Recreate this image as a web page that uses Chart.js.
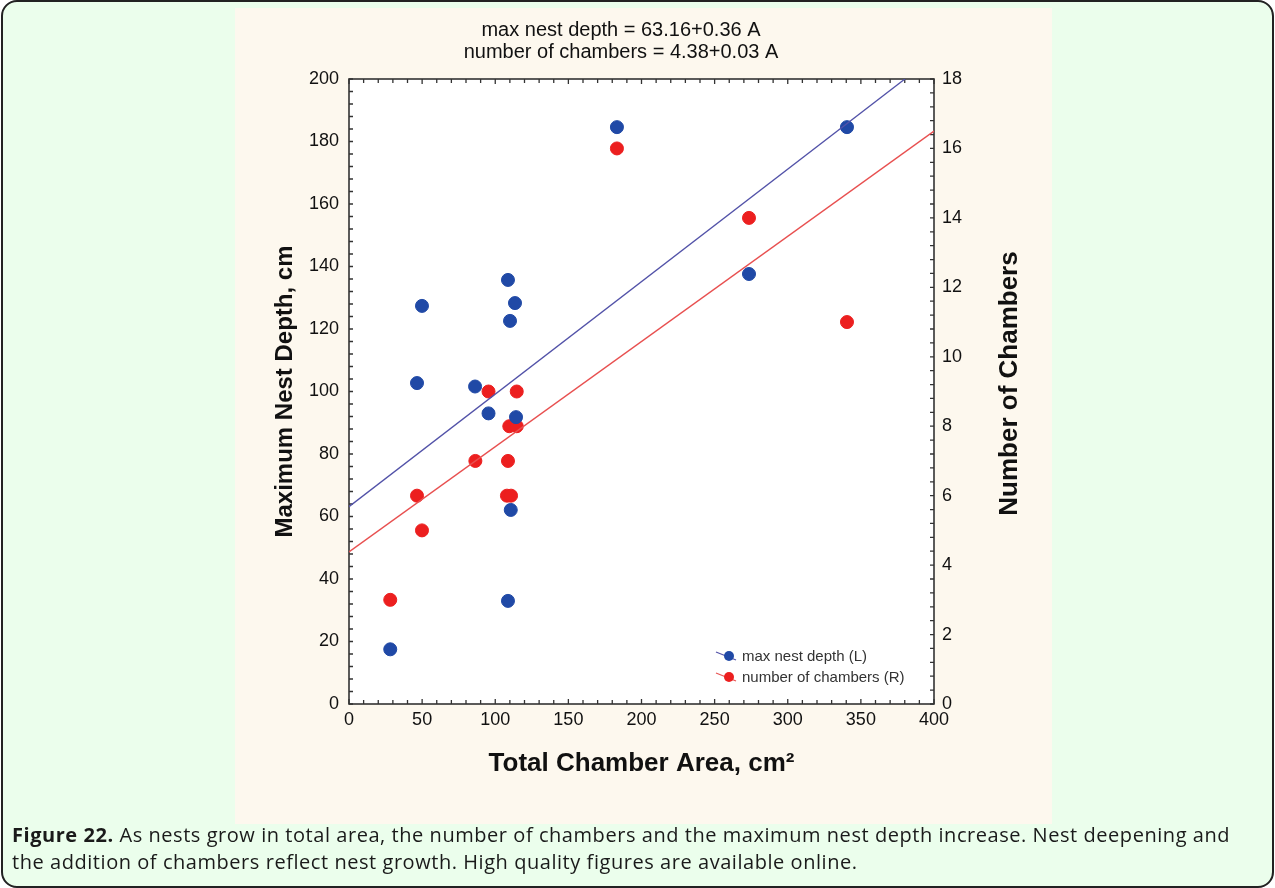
<!DOCTYPE html>
<html>
<head>
<meta charset="utf-8">
<script src="https://cdn.jsdelivr.net/npm/chart.js@4.4.1/dist/chart.umd.min.js"></script>
<style>
  html, body { margin: 0; padding: 0; background: #ffffff; }
  #frame {
    position: absolute; left: 1px; top: 0px; width: 1269px; height: 884px;
    border: 2px solid #222; border-radius: 16px; background: #ebfeec;
  }
  #panel {
    position: absolute; left: 232px; top: 6px; width: 817px; height: 816px;
    background: #fdf8ee;
  }
  #caption {
    position: absolute; left: 9px; top: 819px; width: 1260px; white-space: nowrap;
    font-family: "Open Sans", Lato, sans-serif; font-size: 20px; letter-spacing: 0.55px;
    line-height: 27px; color: #1a1a1a;
  }
</style>
</head>
<body>
<div id="frame">
  <div id="panel"><canvas id="grafico" width="817" height="816"></canvas></div>
  <div id="caption"><b>Figure 22.</b> As nests grow in total area, the number of chambers and the maximum nest depth increase. Nest deepening and<br>the addition of chambers reflect nest growth. High quality figures are available online.</div>
</div>
<script>
// dados
const areaDepth = [28.2, 46.5, 49.9, 86.2, 95.4, 108.7, 110.1, 113.5, 114.2, 110.6, 108.7, 183.2, 273.5, 340.5];
const maxDepth = [17.5, 102.7, 127.4, 101.6, 93, 135.7, 122.6, 128.3, 91.8, 62.1, 33, 184.6, 137.6, 184.6];
const areaChambers = [28.2, 46.5, 49.9, 86.4, 95.4, 108.7, 108, 110.8, 109.6, 114.7, 114.7, 183.2, 273.5, 340.5];
const numChambers = [3, 6, 5, 7, 9, 7, 6, 6, 8, 8, 9, 16, 14, 11];
// retas de regressão (extremos)
const fitX = [0, 400];
const fitDepth = [63.16, 207.16];
const fitChambers = [4.38, 16.5];
const xTicks = [0, 50, 100, 150, 200, 250, 300, 350, 400];
const titleLines = ['max nest depth = 63.16+0.36 A', 'number of chambers = 4.38+0.03 A'];

const BLUE = '#2049a6', RED = '#ec1f1f';
const tickFont = { family: '"Liberation Sans", Arial, sans-serif', size: 18 };

const pts = (xs, ys) => xs.map((x, i) => ({ x: x, y: ys[i] }));

// moldura, marcas internas, título e legenda
const extras = {
  id: 'extras',
  beforeDraw(chart) {
    const { ctx, chartArea: a } = chart;
    ctx.save();
    ctx.fillStyle = '#fff';
    ctx.fillRect(a.left, a.top, a.right - a.left, a.bottom - a.top);
    ctx.restore();
  },
  beforeDatasetsDraw(chart) {
    const { ctx, chartArea: a, scales } = chart;
    ctx.save();
    ctx.strokeStyle = '#333';
    ctx.lineWidth = 1.3;
    ctx.beginPath();
    for (let v = 0; v <= 400; v += 10) {
      const p = scales.x.getPixelForValue(v);
      const l = v % 50 === 0 ? 5 : 4;
      ctx.moveTo(p, a.bottom); ctx.lineTo(p, a.bottom - l);
      ctx.moveTo(p, a.top); ctx.lineTo(p, a.top + l);
    }
    for (let v = 0; v <= 200; v += 4) {
      const p = scales.y.getPixelForValue(v);
      ctx.moveTo(a.left, p); ctx.lineTo(a.left + 4, p);
    }
    for (let v = 0; v <= 18.01; v += 0.4) {
      const p = scales.y2.getPixelForValue(v);
      ctx.moveTo(a.right, p); ctx.lineTo(a.right - 4, p);
    }
    ctx.stroke();
    ctx.lineWidth = 1.6;
    ctx.strokeRect(a.left, a.top, a.right - a.left, a.bottom - a.top);
    ctx.restore();
  },
  afterDraw(chart) {
    const { ctx, chartArea: a } = chart;
    ctx.save();
    // título
    ctx.fillStyle = '#111';
    ctx.font = '20px "Liberation Sans", Arial, sans-serif';
    ctx.textAlign = 'center';
    ctx.textBaseline = 'middle';
    titleLines.forEach((t, i) => ctx.fillText(t, 386, 22 + i * 22));
    // título do eixo direito (de baixo para cima)
    ctx.font = 'bold 26px "Liberation Sans", Arial, sans-serif';
    ctx.translate(a.right + 76, (a.top + a.bottom) / 2 - 8);
    ctx.rotate(-Math.PI / 2);
    ctx.fillText('Number of Chambers', 0, 0);
    ctx.restore();
    // legenda
    ctx.save();
    const items = [
      { text: 'max nest depth (L)', color: BLUE, line: '#5555aa' },
      { text: 'number of chambers (R)', color: RED, line: '#e85555' }
    ];
    ctx.font = '15px "Liberation Sans", Arial, sans-serif';
    ctx.textBaseline = 'middle';
    items.forEach((it, i) => {
      const x = a.right - 205, y = a.bottom - 48 + i * 21;
      ctx.strokeStyle = it.line; ctx.lineWidth = 1.2;
      ctx.beginPath(); ctx.moveTo(x - 13, y - 4); ctx.lineTo(x + 7, y + 4); ctx.stroke();
      ctx.fillStyle = it.color;
      ctx.beginPath(); ctx.arc(x, y, 5, 0, Math.PI * 2); ctx.fill();
      ctx.fillStyle = '#333';
      ctx.fillText(it.text, x + 13, y + 1);
    });
    ctx.restore();
  }
};

const ctx = document.getElementById('grafico').getContext('2d');
const grafico = new Chart(ctx, {
  type: 'scatter',
  data: {
    datasets: [
      {
        type: 'line', label: 'fit depth', data: pts(fitX, fitDepth), yAxisID: 'y',
        borderColor: '#5252a8', borderWidth: 1.3, pointRadius: 0, fill: false
      },
      {
        type: 'line', label: 'fit chambers', data: pts(fitX, fitChambers), yAxisID: 'y2',
        borderColor: '#e85050', borderWidth: 1.3, pointRadius: 0, fill: false
      },
      {
        label: 'max nest depth (L)', data: pts(areaDepth, maxDepth), yAxisID: 'y',
        backgroundColor: BLUE, borderColor: BLUE, pointRadius: 6.5
      },
      {
        label: 'number of chambers (R)', data: pts(areaChambers, numChambers), yAxisID: 'y2',
        backgroundColor: RED, borderColor: RED, pointRadius: 6.5
      }
    ]
  },
  options: {
    responsive: false,
    animation: false,
    devicePixelRatio: 1,
    layout: { padding: { top: 71, left: 0, right: 0, bottom: 0 } },
    plugins: { legend: { display: false }, tooltip: { enabled: false } },
    scales: {
      x: {
        type: 'linear', min: 0, max: 400,
        afterBuildTicks: s => { s.ticks = xTicks.map(v => ({ value: v })); },
        afterFit: s => { s.height = 120; },
        grid: { display: false, drawTicks: false },
        border: { display: false },
        ticks: { font: tickFont, color: '#111', padding: 5, maxRotation: 0 },
        title: {
          display: true, text: 'Total Chamber Area, cm²', color: '#111',
          font: { family: '"Liberation Sans", Arial, sans-serif', size: 26, weight: 'bold' },
          padding: { top: 0, bottom: 45 }
        }
      },
      y: {
        position: 'left', min: 0, max: 200,
        afterFit: s => { s.width = 114; },
        grid: { display: false, drawTicks: false },
        border: { display: false },
        ticks: { stepSize: 20, font: tickFont, color: '#111', padding: 10 },
        title: {
          display: true, text: 'Maximum Nest Depth, cm', color: '#111',
          font: { family: '"Liberation Sans", Arial, sans-serif', size: 24, weight: 'bold' },
          padding: { top: 36, bottom: 0 }
        }
      },
      y2: {
        position: 'right', min: 0, max: 18,
        afterFit: s => { s.width = 118; },
        grid: { display: false, drawTicks: false },
        border: { display: false },
        ticks: { stepSize: 2, font: tickFont, color: '#111', padding: 8 }
      }
    }
  },
  plugins: [extras]
});
</script>
</body>
</html>
